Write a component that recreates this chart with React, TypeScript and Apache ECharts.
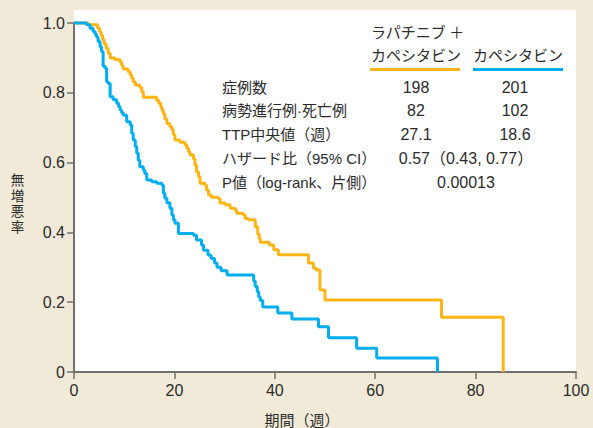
import React, { useEffect, useRef } from "react";
import * as echarts from "echarts";

// Kaplan-Meier curves (weeks, progression-free proportion)
const lapCapWeeks = [0, 2.8, 4.7, 5.1, 5.4, 5.7, 6.0, 6.4, 6.8, 7.2, 8.2, 9.2, 9.5, 9.8, 10.8, 11.2, 11.5, 11.8, 12.2, 13.1, 13.5, 13.8, 16.5, 16.9, 17.3, 17.5, 17.8, 18.1, 18.5, 19.1, 19.5, 19.8, 20.1, 21.1, 22.1, 22.5, 22.8, 23.1, 23.8, 24.1, 24.4, 24.8, 25.1, 26.1, 26.4, 26.8, 27.4, 28.7, 29.1, 30.1, 31.1, 32.1, 32.4, 33.7, 34.1, 34.7, 36.1, 36.6, 36.9, 37.1, 38.9, 39.8, 40.7, 46.7, 47.7, 48.2, 49.0, 50.0, 73.2, 85.5];
const lapCapSurv = [1.0, 0.995, 0.985, 0.975, 0.965, 0.952, 0.94, 0.927, 0.913, 0.9, 0.895, 0.888, 0.878, 0.868, 0.86, 0.852, 0.842, 0.832, 0.822, 0.815, 0.803, 0.787, 0.778, 0.77, 0.76, 0.75, 0.74, 0.725, 0.712, 0.703, 0.694, 0.68, 0.665, 0.658, 0.651, 0.641, 0.631, 0.622, 0.61, 0.593, 0.574, 0.56, 0.541, 0.536, 0.521, 0.507, 0.501, 0.497, 0.484, 0.479, 0.469, 0.464, 0.455, 0.45, 0.44, 0.436, 0.416, 0.395, 0.382, 0.372, 0.364, 0.35, 0.336, 0.312, 0.298, 0.292, 0.235, 0.206, 0.157, 0];

const capWeeks = [0, 2.5, 3.2, 3.8, 4.2, 4.5, 4.8, 5.2, 5.5, 5.8, 6.2, 6.5, 6.8, 7.2, 7.8, 8.5, 8.9, 9.2, 9.5, 9.8, 10.5, 11.2, 11.5, 11.8, 12.2, 12.5, 12.8, 13.1, 13.8, 14.1, 14.5, 15.5, 16.5, 17.5, 17.8, 18.1, 18.5, 19.1, 19.5, 19.8, 20.1, 20.8, 23.8, 24.4, 25.4, 25.8, 26.7, 27.3, 28.0, 28.5, 29.3, 30.5, 35.8, 36.1, 36.5, 36.8, 37.1, 37.6, 40.6, 43.4, 48.7, 50.7, 56.3, 60.3, 72.4];
const capSurv = [1.0, 0.995, 0.985, 0.976, 0.968, 0.96, 0.947, 0.932, 0.918, 0.876, 0.87, 0.832, 0.827, 0.789, 0.78, 0.77, 0.76, 0.75, 0.743, 0.736, 0.717, 0.708, 0.684, 0.665, 0.646, 0.627, 0.607, 0.588, 0.579, 0.569, 0.55, 0.545, 0.541, 0.536, 0.512, 0.498, 0.485, 0.469, 0.45, 0.436, 0.426, 0.397, 0.392, 0.378, 0.364, 0.349, 0.335, 0.325, 0.312, 0.3, 0.29, 0.278, 0.26, 0.245, 0.23, 0.215, 0.205, 0.186, 0.169, 0.152, 0.13, 0.098, 0.068, 0.04, 0];

const xTicks = [0, 20, 40, 60, 80, 100];
const yTickLabels = ["0", "0.2", "0.4", "0.6", "0.8", "1.0"];

const armNames1 = ["ラパチニブ ＋", "カペシタビン"];
const armName2 = "カペシタビン";
const rowLabels = ["症例数", "病勢進行例·死亡例", "TTP中央値（週）", "ハザード比（95% CI）", "P値（log-rank、片側）"];
const arm1Values = ["198", "82", "27.1"];
const arm2Values = ["201", "102", "18.6"];
const sharedValues = ["0.57（0.43, 0.77）", "0.00013"];

const xAxisName = "期間（週）";
const yAxisNameChars = ["無", "増", "悪", "率"];

const ORANGE = "#fdb515";
const BLUE = "#00adef";
const BG = "#f2ead8";
const TXT = "#2b2b2b";
const FONT = "'Liberation Sans', 'Noto Sans CJK JP', sans-serif";
const JFONT = "'Noto Sans CJK JP', sans-serif";

export default function App() {
  const ref = useRef<HTMLDivElement>(null);
  useEffect(() => {
    document.body.style.margin = "0";
    const chart = echarts.init(ref.current!, null, { renderer: "svg" });
    const gl = 74, gr = 576, gt = 23, gb = 372;
    const rowY0 = 87, rowDy = 23.75;
    const graphics: any[] = [
      { type: "rect", z: -10, shape: { x: gl, y: 10, width: gr - gl, height: gb - 10 }, style: { fill: "#ffffff" } },
      { type: "text", x: 302, y: 419, style: { text: xAxisName, font: `15px ${JFONT}`, fill: TXT, align: "center", verticalAlign: "middle" } },
      { type: "text", x: 371, y: 31.5, style: { text: armNames1[0], font: `15px ${JFONT}`, fill: TXT, align: "left", verticalAlign: "middle" } },
      { type: "text", x: 371, y: 54, style: { text: armNames1[1], font: `15px ${JFONT}`, fill: TXT, align: "left", verticalAlign: "middle" } },
      { type: "text", x: 473, y: 54, style: { text: armName2, font: `15px ${JFONT}`, fill: TXT, align: "left", verticalAlign: "middle" } },
      { type: "line", shape: { x1: 370, y1: 69.5, x2: 460, y2: 69.5 }, style: { stroke: ORANGE, lineWidth: 3 } },
      { type: "line", shape: { x1: 473, y1: 69.5, x2: 563, y2: 69.5 }, style: { stroke: BLUE, lineWidth: 3 } },
    ];
    yAxisNameChars.forEach((c, i) => {
      graphics.push({ type: "text", x: 17.5, y: 179 + i * 15.5, style: { text: c, font: `13.5px ${JFONT}`, fill: TXT, align: "center", verticalAlign: "middle" } });
    });
    rowLabels.forEach((t, i) => {
      graphics.push({ type: "text", x: 222, y: rowY0 + i * rowDy, style: { text: t, font: `15px ${FONT}`, fill: TXT, align: "left", verticalAlign: "middle" } });
    });
    arm1Values.forEach((t, i) => {
      graphics.push({ type: "text", x: 416, y: rowY0 + i * rowDy, style: { text: t, font: `16px ${FONT}`, fill: TXT, align: "center", verticalAlign: "middle" } });
    });
    arm2Values.forEach((t, i) => {
      graphics.push({ type: "text", x: 515, y: rowY0 + i * rowDy, style: { text: t, font: `16px ${FONT}`, fill: TXT, align: "center", verticalAlign: "middle" } });
    });
    sharedValues.forEach((t, i) => {
      graphics.push({ type: "text", x: 466, y: rowY0 + (i + 3) * rowDy, style: { text: t, font: `16px ${FONT}`, fill: TXT, align: "center", verticalAlign: "middle" } });
    });

    const axisCommon = {
      axisLine: { show: true, lineStyle: { color: "#707070", width: 2 } },
      axisTick: { show: true, inside: false, length: 7, lineStyle: { color: "#707070", width: 1.5 } },
      splitLine: { show: false },
    };

    chart.setOption({
      animation: false,
      backgroundColor: BG,
      textStyle: { fontFamily: FONT },
      grid: { left: gl, right: 593 - gr, top: gt, bottom: 428 - gb, containLabel: false },
      xAxis: {
        type: "value", min: xTicks[0], max: xTicks[xTicks.length - 1], interval: 20,
        ...axisCommon,
        axisLabel: { color: TXT, fontSize: 16, margin: 10, fontFamily: FONT },
      },
      yAxis: {
        type: "value", min: 0, max: 1, interval: 0.2,
        ...axisCommon,
        axisLabel: { color: TXT, fontSize: 16, margin: 9, fontFamily: FONT, formatter: (v: number) => yTickLabels[Math.round(v * 5)] },
      },
      graphic: graphics,
      series: [
        {
          type: "line", step: "end", symbol: "none", clip: false,
          data: lapCapWeeks.map((t, i) => [t, lapCapSurv[i]]),
          lineStyle: { color: ORANGE, width: 3 }, itemStyle: { color: ORANGE },
        },
        {
          type: "line", step: "end", symbol: "none", clip: false,
          data: capWeeks.map((t, i) => [t, capSurv[i]]),
          lineStyle: { color: BLUE, width: 3 }, itemStyle: { color: BLUE },
        },
      ],
    });
    return () => chart.dispose();
  }, []);
  return <div ref={ref} style={{ width: 593, height: 428 }} />;
}
